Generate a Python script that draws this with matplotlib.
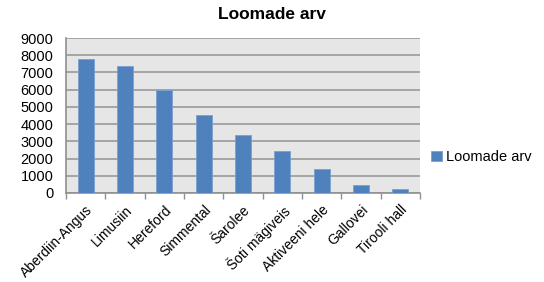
import numpy as np
import matplotlib.pyplot as plt

plt.rcParams['font.family'] = ['Liberation Sans', 'DejaVu Sans']

# data
breeds = ['Aberdiin-Angus', 'Limusiin', 'Hereford', 'Simmental', 'Šarolee',
          'Šoti mägiveis', 'Aktiveeni hele', 'Gallovei', 'Tirooli hall']
counts = [7780, 7350, 5960, 4550, 3370, 2450, 1390, 460, 230]
series_name = 'Loomade arv'

fig = plt.figure(figsize=(5.44, 2.82), dpi=100)
ax = fig.add_axes([66/544, 1 - 193/282, (420-66)/544, (193-38)/282])

x = np.arange(len(breeds))
ax.bar(x, counts, width=0.4, color='#4f81bd', edgecolor='#7aa0d0', linewidth=0.6,
       label=series_name, zorder=3)

ax.set_facecolor('#e6e6e6')
ax.set_xlim(-0.5, len(breeds) - 0.5)
ax.set_ylim(0, 9000)
ax.set_yticks(np.arange(0, 9001, 1000))
ax.yaxis.grid(True, color='#a0a0a0', linewidth=1.3, zorder=1)
ax.tick_params(axis='y', length=0, labelsize=10.5, pad=9)

ax.set_xticks(x)
ax.set_xticklabels(breeds, rotation=45, ha='right', rotation_mode='anchor', fontsize=10)
ax.tick_params(axis='x', which='major', length=0, pad=7)
ax.set_xticks(np.arange(-0.5, len(breeds)), minor=True)
ax.tick_params(axis='x', which='minor', length=4, color='#909090', width=1)

for side in ['top', 'right']:
    ax.spines[side].set_visible(False)
ax.spines['left'].set_color('#909090')
ax.spines['bottom'].set_color('#909090')
ax.spines['left'].set_linewidth(1.2)
ax.spines['bottom'].set_linewidth(1.2)

fig.text(0.5, 1 - 14.5/282, 'Loomade arv', ha='center', va='center',
         fontsize=12.5, fontweight='bold')

leg = ax.legend(loc='center left', bbox_to_anchor=(0.995, 0.23), frameon=False,
                fontsize=10.5, handlelength=0.7, handleheight=0.7, handletextpad=0.3)

fig.savefig('out.png', dpi=100)
